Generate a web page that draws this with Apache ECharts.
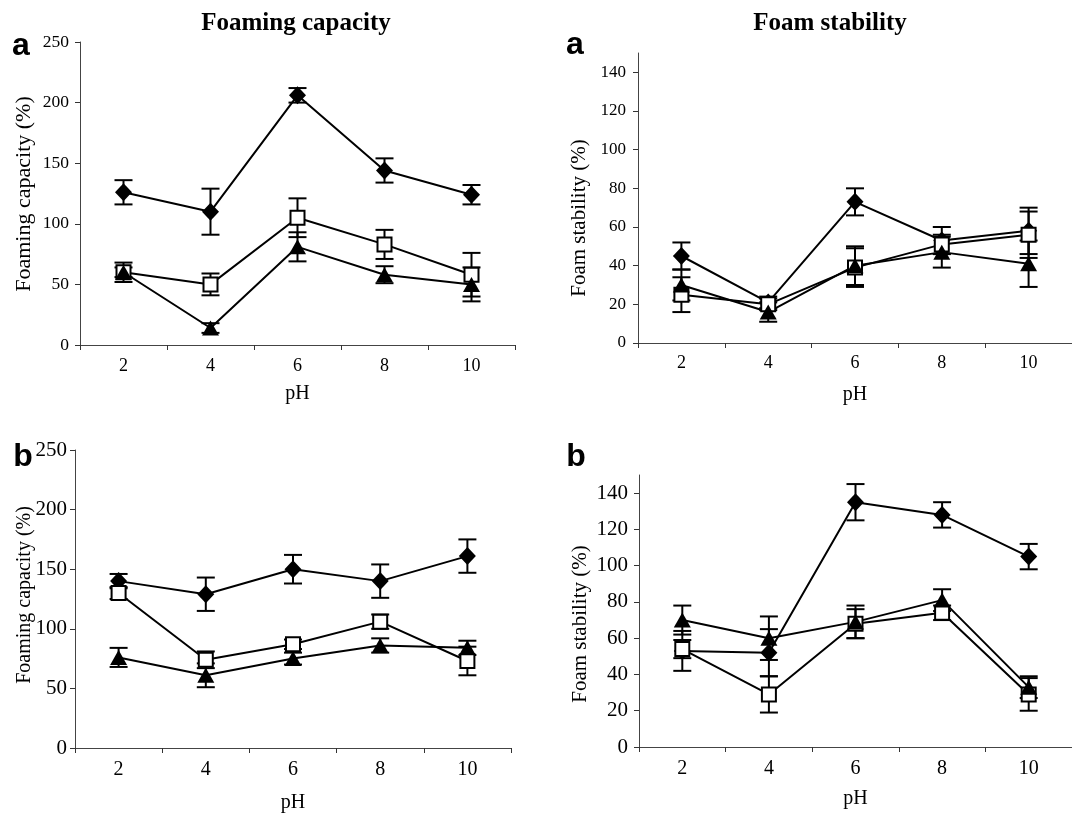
<!DOCTYPE html>
<html><head><meta charset="utf-8">
<script src="https://cdn.jsdelivr.net/npm/echarts@6/dist/echarts.min.js"></script>
<style>html,body{margin:0;padding:0;background:#fff}#c{width:1072px;height:814px}</style>
</head><body><div id="c"></div>
<script>
const pH = ['2','4','6','8','10'];
const fcTicks = [0,50,100,150,200,250];
const fsTicks = [0,20,40,60,80,100,120,140];

// Panel a – Foaming capacity
const fcA_diamond = [126,110,206,144,124];
const fcA_diamondErr = [10,19,6,10,8];
const fcA_square = [60,50,105,83,58];
const fcA_squareErr = [8,9,16,12,18];
const fcA_triangle = [60,14,81,58,50];
const fcA_triangleErr = [4,4,12,7,14];

// Panel a – Foam stability
const fsA_diamond = [45,21,73,53,58];
const fsA_diamondErr = [7,3,7,7,12];
const fsA_square = [25,20,39,51,56];
const fsA_squareErr = [9,3,10,5,12];
const fsA_triangle = [30,16,40,47,41];
const fsA_triangleErr = [8,5,10,8,12];

// Panel b – Foaming capacity
const fcB_diamond = [140,129,150,140,161];
const fcB_diamondErr = [6,14,12,14,14];
const fcB_square = [130,74,87,106,73];
const fcB_squareErr = [5,7,4,6,12];
const fcB_triangle = [76,61,75,86,84];
const fcB_triangleErr = [8,10,5,6,6];

// Panel b – Foam stability
const fsB_diamond = [53,52,135,128,105];
const fsB_diamondErr = [11,13,10,7,7];
const fsB_square = [54,29,68,74,29];
const fsB_squareErr = [5,10,8,4,9];
const fsB_triangle = [70,60,69,81,33];
const fsB_triangleErr = [8,12,9,6,6];

const SERIF = '"Liberation Serif","DejaVu Serif",serif';
const SANS = '"Liberation Sans",Arial,sans-serif';

const grids = [
  {left:80, top:42, width:435, height:303},
  {left:638, top:53, width:436, height:290},
  {left:75, top:450, width:436, height:298},
  {left:639, top:475, width:442, height:272}
];
const xNameGap = [39, 42, 45, 42];
const xLabelMargin = [12, 11, 12, 12];
const xLabelSize = [18, 18, 20, 20];
const yLabelSize = [17.5, 17, 21, 21];
const yLabelMargin = [11, 12, 8, 11];
const xNameSize = [20, 20, 20, 20];

function xAxis(i){
  return {
    type:'category', gridIndex:i, data:pH, boundaryGap:true,
    name:'pH', nameLocation:'middle', nameGap:xNameGap[i],
    nameTextStyle:{fontFamily:SERIF, fontSize:xNameSize[i], color:'#000'},
    axisLine:{lineStyle:{color:'#444', width:1}},
    axisTick:{show:true, inside:false, length:5, alignWithLabel:false, lineStyle:{color:'#333'}},
    axisLabel:{fontFamily:SERIF, fontSize:xLabelSize[i], color:'#000', margin:xLabelMargin[i]},
    splitLine:{show:false}
  };
}
function yAxis(i, fc){
  const ticks = fc ? fcTicks : fsTicks;
  return {
    type:'value', gridIndex:i, min:0, max: fc ? 250 : 150, interval: fc ? 50 : 20,
    axisLine:{show:true, lineStyle:{color:'#444', width:1}},
    axisTick:{show:true, length:5, lineStyle:{color:'#333'}, customValues:ticks},
    axisLabel:{fontFamily:SERIF, fontSize:yLabelSize[i], color:'#000', margin:yLabelMargin[i], customValues:ticks},
    splitLine:{show:false}
  };
}

function errRender(params, api){
  const x = api.value(0), y = api.value(1), e = api.value(2);
  const hi = api.coord([x, y + e]), lo = api.coord([x, y - e]);
  const w = 9;
  const st = {stroke:'#000', lineWidth:2};
  return {type:'group', children:[
    {type:'line', shape:{x1:hi[0], y1:hi[1], x2:lo[0], y2:lo[1]}, style:st},
    {type:'line', shape:{x1:hi[0]-w, y1:hi[1], x2:hi[0]+w, y2:hi[1]}, style:st},
    {type:'line', shape:{x1:lo[0]-w, y1:lo[1], x2:lo[0]+w, y2:lo[1]}, style:st}
  ]};
}

const markerStyles = {
  diamond:{symbol:'diamond', symbolSize:[17,18], itemStyle:{color:'#000'}},
  square:{symbol:'rect', symbolSize:14, itemStyle:{color:'#fff', borderColor:'#000', borderWidth:2}},
  triangle:{symbol:'triangle', symbolSize:[17,15], itemStyle:{color:'#000'}}
};

const series = [];
function addSet(i, kind, vals, errs){
  series.push({
    type:'custom', xAxisIndex:i, yAxisIndex:i, renderItem:errRender, z:2,
    data: vals.map((v,k)=>[k, v, errs[k]]), silent:true
  });
  const m = markerStyles[kind];
  series.push({
    type:'line', xAxisIndex:i, yAxisIndex:i, data:vals, z:3,
    symbol:m.symbol, symbolSize:m.symbolSize, showAllSymbol:true,
    itemStyle:m.itemStyle, lineStyle:{color:'#000', width:2},
    animation:false, silent:true
  });
}
addSet(0,'diamond',fcA_diamond,fcA_diamondErr);
addSet(0,'square',fcA_square,fcA_squareErr);
addSet(0,'triangle',fcA_triangle,fcA_triangleErr);
addSet(1,'diamond',fsA_diamond,fsA_diamondErr);
addSet(1,'square',fsA_square,fsA_squareErr);
addSet(1,'triangle',fsA_triangle,fsA_triangleErr);
addSet(2,'diamond',fcB_diamond,fcB_diamondErr);
addSet(2,'square',fcB_square,fcB_squareErr);
addSet(2,'triangle',fcB_triangle,fcB_triangleErr);
addSet(3,'diamond',fsB_diamond,fsB_diamondErr);
addSet(3,'square',fsB_square,fsB_squareErr);
addSet(3,'triangle',fsB_triangle,fsB_triangleErr);

function txt(x, y, s, font, rot){
  return {type:'text', x:x, y:y, rotation:rot||0,
    style:{text:s, font:font, fill:'#000', align:'center', verticalAlign:'middle'}};
}
const R = Math.PI/2;
const graphic = [
  txt(296, 24, 'Foaming capacity', 'bold 25px '+SERIF),
  txt(830, 24, 'Foam stability', 'bold 25px '+SERIF),
  txt(21, 46, 'a', 'bold 32px '+SANS),
  txt(575, 45, 'a', 'bold 32px '+SANS),
  txt(23, 457, 'b', 'bold 32px '+SANS),
  txt(576, 457, 'b', 'bold 32px '+SANS),
  txt(24, 194, 'Foaming capacity (%)', '22px '+SERIF, R),
  txt(579, 218, 'Foam stability (%)', '21px '+SERIF, R),
  txt(25, 595, 'Foaming capacity (%)', '20px '+SERIF, R),
  txt(580, 624, 'Foam stability (%)', '21px '+SERIF, R)
];

const chart = echarts.init(document.getElementById('c'), null, {renderer:'canvas'});
chart.setOption({
  animation:false,
  backgroundColor:'#fff',
  grid:grids,
  xAxis:[xAxis(0), xAxis(1), xAxis(2), xAxis(3)],
  yAxis:[yAxis(0,true), yAxis(1,false), yAxis(2,true), yAxis(3,false)],
  series:series,
  graphic:graphic
});
</script>
</body></html>
